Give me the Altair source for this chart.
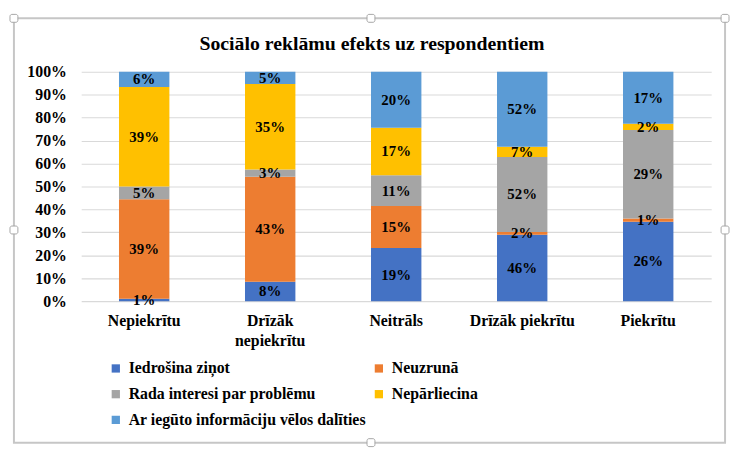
import altair as alt
import pandas as pd

categories = ["Nepiekrītu", "Drīzāk nepiekrītu", "Neitrāls", "Drīzāk piekrītu", "Piekrītu"]
series = ["Iedrošina ziņot", "Neuzrunā", "Rada interesi par problēmu",
          "Nepārliecina", "Ar iegūto informāciju vēlos dalīties"]
colors = ["#4472C4", "#ED7D31", "#A5A5A5", "#FFC000", "#5B9BD5"]

iedrosina = [1, 8, 19, 46, 26]
neuzruna = [39, 43, 15, 2, 1]
rada = [5, 3, 11, 52, 29]
neparliecina = [39, 35, 17, 7, 2]
dalities = [6, 5, 20, 52, 17]

y_ticks = [0, 0.1, 0.2, 0.3, 0.4, 0.5, 0.6, 0.7, 0.8, 0.9, 1.0]
title_text = "Sociālo reklāmu efekts uz respondentiem"

FONT = "Liberation Serif"

rows = []
for si, (name, vals) in enumerate(zip(series, [iedrosina, neuzruna, rada, neparliecina, dalities])):
    for ci, cat in enumerate(categories):
        rows.append({"cat": cat, "series": name, "order": si, "value": vals[ci]})
df = pd.DataFrame(rows)

base = alt.Chart(df).transform_stack(
    stack="value", groupby=["cat"], as_=["y0", "y1"], offset="normalize",
    sort=[alt.SortField("order", "ascending")]
).transform_calculate(
    mid="(datum.y0 + datum.y1) / 2",
    lbl="datum.value + '%'"
)

x_axis = alt.Axis(
    title=None, labelAngle=0, ticks=False, domain=False,
    labelFont=FONT, labelFontSize=16, labelFontWeight="bold", labelColor="black",
    labelPadding=12, labelBaseline="top", labelLineHeight=20,
    labelExpr="datum.label == 'Drīzāk nepiekrītu' ? ['Drīzāk', 'nepiekrītu'] : datum.label",
)
x_scale = alt.Scale(paddingInner=0.6, paddingOuter=0.3)

y_axis = alt.Axis(
    title=None, format="%", values=y_ticks, tickCount=20, ticks=False, domain=False,
    labelOverlap=False,
    labelFont=FONT, labelFontSize=16, labelFontWeight="bold", labelColor="black",
    labelPadding=15, gridColor="#d9d9d9", gridWidth=1.2,
)
y_scale = alt.Scale(domain=[0, 1], nice=False)

bars = base.mark_bar().encode(
    x=alt.X("cat:N", sort=categories, scale=x_scale, axis=x_axis),
    y=alt.Y("y0:Q", scale=y_scale, axis=y_axis),
    y2="y1:Q",
    color=alt.Color(
        "series:N", sort=series,
        scale=alt.Scale(domain=series, range=colors),
        legend=alt.Legend(
            title=None, orient="none", legendX=27, legendY=292, columns=2,
            direction="horizontal", padding=0,
            symbolType="square", symbolSize=70, symbolStrokeWidth=0,
            labelFont=FONT, labelFontSize=16, labelFontWeight="bold", labelColor="black",
            labelLimit=500, labelOffset=5, rowPadding=10, columnPadding=5,
        ),
    ),
)

labels = base.mark_text(
    font=FONT, fontSize=15, fontWeight="bold", color="black", baseline="middle"
).encode(
    x=alt.X("cat:N", sort=categories, scale=x_scale, axis=x_axis),
    y=alt.Y("mid:Q", scale=y_scale, axis=y_axis),
    text="lbl:N",
)

one = pd.DataFrame({"k": [0]})

frame = alt.Chart(one).mark_rect(fillOpacity=0, stroke="#c6c6c6", strokeWidth=2).encode(
    x=alt.value(-68), x2=alt.value(651), y=alt.value(-54), y2=alt.value(375)
)

title = alt.Chart(one).mark_text(
    text=title_text, font=FONT, fontSize=20, fontWeight="bold", color="black",
    align="center", baseline="middle"
).encode(x=alt.value(294), y=alt.value(-28))


def handle(cx, cy):
    return alt.Chart(one).mark_rect(
        fill="white", stroke="#a6a6a6", strokeWidth=1, cornerRadius=2
    ).encode(x=alt.value(cx - 4), x2=alt.value(cx + 4), y=alt.value(cy - 4), y2=alt.value(cy + 4))


handles = [handle(-68, -54), handle(293, -54), handle(651, -54),
           handle(-68, 160), handle(651, 160),
           handle(293, 375)]

chart = alt.layer(bars, labels, frame, title, *handles).properties(
    width=637, height=232,
    autosize=alt.AutoSizeParams(type="none"),
    padding={"left": 74, "top": 62, "right": 19, "bottom": 149},
    background="white",
).configure_view(stroke=None)

chart.save("out.html", embed_options={"renderer": "svg", "actions": False})
